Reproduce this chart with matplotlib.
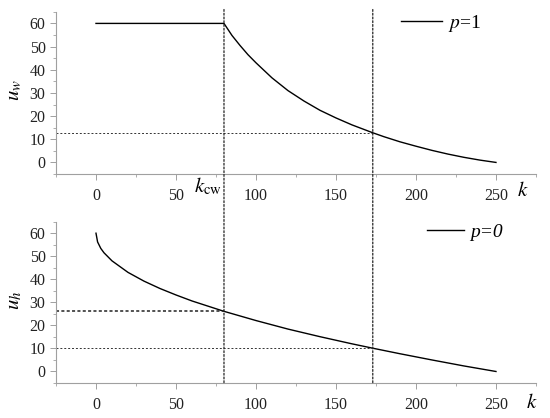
import matplotlib.pyplot as plt
from matplotlib.patches import ConnectionPatch
from matplotlib.ticker import MultipleLocator

plt.rcParams['font.family'] = ['Liberation Serif', 'DejaVu Serif']
plt.rcParams['mathtext.fontset'] = 'stix'

# upper panel: u_w against k (p=1)
k_w = [0, 20, 40, 60, 80, 85, 90, 95, 100, 110, 120, 130, 140, 150, 160, 173,
       180, 190, 200, 210, 220, 230, 240, 250]
u_w = [60, 60, 60, 60, 60, 54.8, 50.5, 46.5, 43, 36.5, 31, 26.5, 22.5, 19.2,
       16.2, 12.8, 11.1, 8.9, 7.0, 5.2, 3.6, 2.2, 1.0, 0]

# lower panel: u_h against k (p=0)
k_h = [0, 1, 3, 5, 10, 20, 30, 40, 50, 60, 80, 100, 120, 140, 160, 173,
       190, 210, 230, 250]
u_h = [60, 56.2, 53.4, 51.5, 48.0, 43.0, 39.2, 36.0, 33.2, 30.6, 26.1, 22.1,
       18.4, 15.1, 12.0, 10.1, 7.7, 5.0, 2.4, 0]

k_cw = 80
k_cross = 173
uw_cross = 12.8
uh_kcw = 26.1
uh_cross = 10.1

fig = plt.figure(figsize=(5.5, 4.18), dpi=100)
ax1 = fig.add_axes([0.1018, 0.5837, 0.8727, 0.388])
ax2 = fig.add_axes([0.1018, 0.0837, 0.8727, 0.386])

grey = '#a0a0a0'
for ax in (ax1, ax2):
    ax.set_xlim(-25, 275)
    ax.set_ylim(-5, 65)
    ax.xaxis.set_major_locator(MultipleLocator(50))
    ax.xaxis.set_minor_locator(MultipleLocator(25))
    ax.yaxis.set_major_locator(MultipleLocator(10))
    ax.yaxis.set_minor_locator(MultipleLocator(5))
    for s in ('top', 'right'):
        ax.spines[s].set_visible(False)
    for s in ('left', 'bottom'):
        ax.spines[s].set_color(grey)
        ax.spines[s].set_linewidth(0.8)
    ax.tick_params(which='major', direction='out', length=4, width=0.7,
                   color=grey, labelsize=11.5, labelcolor='#222222')
    ax.tick_params(axis='x', which='major', pad=6)
    ax.tick_params(which='minor', direction='out', length=2, width=0.6, color=grey)

ax1.plot(k_w, u_w, color='k', lw=1.0, label=r'$p$=1')
ax2.plot(k_h, u_h, color='k', lw=1.0, label='p=0')

# guide lines
ax1.plot([-25, k_cross], [uw_cross, uw_cross], ls=(0, (2, 2)), color='#333333', lw=0.7)
ax2.plot([-25, k_cw], [uh_kcw, uh_kcw], ls=(0, (2, 1.5)), color='#222222', lw=1.1)
ax2.plot([-25, k_cross], [uh_cross, uh_cross], ls=(0, (2, 2)), color='#333333', lw=0.7)

for kx in (k_cw, k_cross):
    con = ConnectionPatch(xyA=(kx, 66), coordsA=ax1.transData,
                          xyB=(kx, -5), coordsB=ax2.transData,
                          linestyle=(0, (1.5, 1.5)), color='#222222', lw=0.9)
    fig.add_artist(con)

ax1.set_ylabel(r'$u_w$', fontsize=15, rotation=90, va='center')
ax1.yaxis.set_label_coords(-0.085, 0.52)
ax2.set_ylabel(r'$u_h$', fontsize=15, rotation=90, va='center')
ax2.yaxis.set_label_coords(-0.085, 0.51)

ax1.text(79, -13, r'$k_{\mathrm{cw}}$', fontsize=15, ha='right', va='baseline',
         clip_on=False)
ax1.text(267, -14.5, r'$k$', fontsize=15, ha='center', va='baseline', clip_on=False)
ax2.text(272.5, -16, r'$k$', fontsize=15, ha='center', va='baseline', clip_on=False)

ax1.legend(loc='center left', bbox_to_anchor=(0.719, 0.931), frameon=False,
           fontsize=14, handlelength=2.1, handletextpad=0.3,
           borderpad=0, borderaxespad=0)
leg2 = ax2.legend(loc='center left', bbox_to_anchor=(0.773, 0.936), frameon=False,
                  fontsize=14, handlelength=1.9, handletextpad=0.3,
                  borderpad=0, borderaxespad=0)
for t in leg2.get_texts():
    t.set_fontstyle('italic')

fig.savefig('out.png', dpi=100)
